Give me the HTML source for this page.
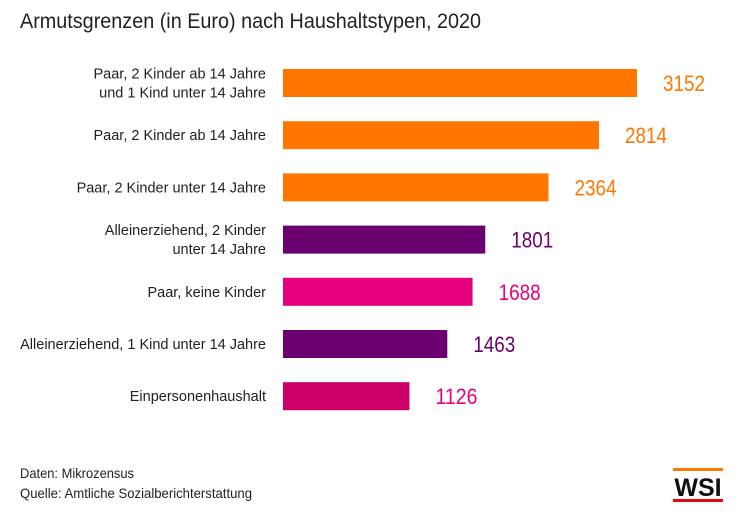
<!DOCTYPE html>
<html><head><meta charset="utf-8"><style>
body{margin:0;width:741px;height:518px;background:#fff;font-family:"Liberation Sans",sans-serif;overflow:hidden}
svg{display:block}
</style></head><body>
<svg id="c" width="741" height="518">
<text x="20" y="28" font-size="21" fill="#222" textLength="461" lengthAdjust="spacingAndGlyphs">Armutsgrenzen (in Euro) nach Haushaltstypen, 2020</text>
<g id="bars"></g>
<text x="20" y="478" font-size="14" fill="#222" textLength="114" lengthAdjust="spacingAndGlyphs">Daten: Mikrozensus</text>
<text x="20" y="498" font-size="14" fill="#222" textLength="232" lengthAdjust="spacingAndGlyphs">Quelle: Amtliche Sozialberichterstattung</text>
<g>
<rect x="673" y="468" width="50" height="3" fill="#FF7700"/>
<text x="698" y="496" font-size="25" font-weight="bold" text-anchor="middle" fill="#111">WSI</text>
<rect x="673" y="499" width="50" height="3" fill="#E30613"/>
</g>
</svg>
<script>
const categories=[["Paar, 2 Kinder ab 14 Jahre","und 1 Kind unter 14 Jahre"],["Paar, 2 Kinder ab 14 Jahre"],["Paar, 2 Kinder unter 14 Jahre"],["Alleinerziehend, 2 Kinder","unter 14 Jahre"],["Paar, keine Kinder"],["Alleinerziehend, 1 Kind unter 14 Jahre"],["Einpersonenhaushalt"]];
const values=[3152,2814,2364,1801,1688,1463,1126];
const colors=["#FF7700","#FF7700","#FF7700","#6B0070","#E6007E","#6B0070","#CC0066"];
const textColors=["#FF7700","#FF7700","#FF7700","#6B0070","#E6007E","#6B0070","#E6007E"];
const x0=283, scale=(637-283)/3152;
const y=i=>83+i*52.2;
const g=document.getElementById('bars');
const NS="http://www.w3.org/2000/svg";
values.forEach((v,i)=>{
 const r=document.createElementNS(NS,'rect');
 r.setAttribute('x',x0);r.setAttribute('y',y(i)-14);r.setAttribute('height',28);
 r.setAttribute('width',v*scale);r.setAttribute('fill',colors[i]);
 
 
 g.appendChild(r);
 const t=document.createElementNS(NS,'text');
 t.setAttribute('x',x0+v*scale+26);t.setAttribute('y',y(i)+8);
 t.setAttribute('font-size',22);t.setAttribute('fill',textColors[i]);
 t.setAttribute('textLength',42);t.setAttribute('lengthAdjust','spacingAndGlyphs');
 t.textContent=v;
 
 
 g.appendChild(t);
 const lines=categories[i];
 lines.forEach((l,j)=>{
  const c=document.createElementNS(NS,'text');
  c.setAttribute('x',266);c.setAttribute('text-anchor','end');
  c.setAttribute('y',y(i)+5+(j-(lines.length-1)/2)*19);
  c.setAttribute('font-size',14.5);c.setAttribute('fill','#222');
  c.textContent=l;
  
  
  g.appendChild(c);
 });
});
</script>
</body></html>
